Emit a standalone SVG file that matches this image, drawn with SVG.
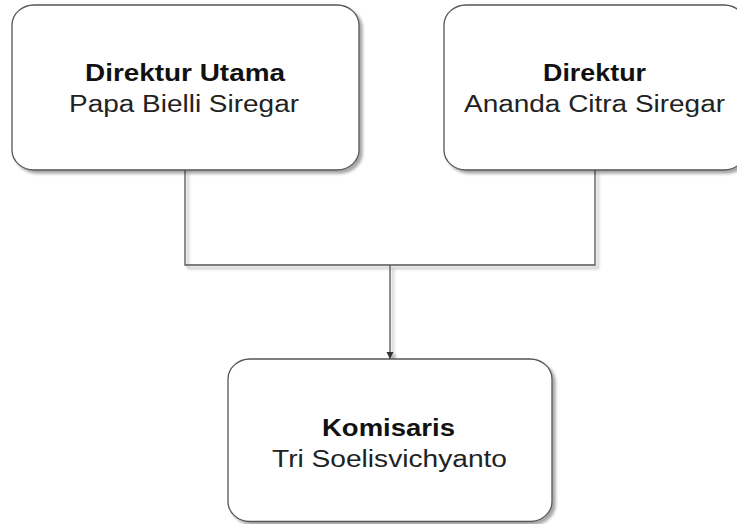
<svg xmlns="http://www.w3.org/2000/svg" width="737" height="524" viewBox="0 0 737 524">
  <defs>
    <filter id="shadow" x="-10%" y="-10%" width="130%" height="130%">
      <feGaussianBlur in="SourceAlpha" stdDeviation="1.5"/>
      <feOffset dx="2.5" dy="2.5" result="off"/>
      <feComponentTransfer><feFuncA type="linear" slope="0.35"/></feComponentTransfer>
      <feMerge><feMergeNode/><feMergeNode in="SourceGraphic"/></feMerge>
    </filter>
    <marker id="arrow" markerWidth="8" markerHeight="8" refX="7" refY="3.5" orient="auto" markerUnits="userSpaceOnUse">
      <path d="M0,0 L7,3.5 L0,7 Z" fill="#333"/>
    </marker>
  </defs>
  <style>
    .box { fill: #ffffff; stroke: #555555; stroke-width: 1.3; }
    .title { font-family: "Liberation Sans", Arial, sans-serif; font-weight: bold; font-size: 23.5px; fill: #111111; text-anchor: middle; }
    .name { font-family: "Liberation Sans", Arial, sans-serif; font-size: 23.5px; fill: #222222; text-anchor: middle; }
    .conn { fill: none; stroke: #555555; stroke-width: 1.3; }
  </style>
  <rect width="737" height="524" fill="#ffffff"/>

  <g id="connectors" filter="url(#shadow)">
    <polyline class="conn" points="185,170 185,265 595,265 595,170"/>
    <line class="conn" x1="390" y1="265" x2="390" y2="359" marker-end="url(#arrow)"/>
  </g>

  <g id="node-direktur-utama">
    <rect class="box" x="12" y="5" width="347" height="165" rx="22" ry="20" filter="url(#shadow)"/>
    <text class="title" x="185" y="81" textLength="200" lengthAdjust="spacingAndGlyphs">Direktur Utama</text>
    <text class="name" x="184" y="112" textLength="230" lengthAdjust="spacingAndGlyphs">Papa Bielli Siregar</text>
  </g>

  <g id="node-direktur">
    <rect class="box" x="444" y="5" width="302" height="165" rx="22" ry="20" filter="url(#shadow)"/>
    <text class="title" x="594.5" y="81" textLength="103" lengthAdjust="spacingAndGlyphs">Direktur</text>
    <text class="name" x="594.5" y="112" textLength="261" lengthAdjust="spacingAndGlyphs">Ananda Citra Siregar</text>
  </g>

  <g id="node-komisaris">
    <rect class="box" x="228" y="359" width="324" height="162.5" rx="22" ry="20" filter="url(#shadow)"/>
    <text class="title" x="388.5" y="436" textLength="133" lengthAdjust="spacingAndGlyphs">Komisaris</text>
    <text class="name" x="389.5" y="467" textLength="235" lengthAdjust="spacingAndGlyphs">Tri Soelisvichyanto</text>
  </g>
</svg>
